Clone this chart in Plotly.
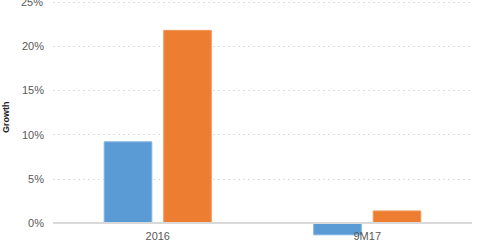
import plotly.graph_objects as go

categories = ["2016", "9M17"]
series_a = [9.2, -1.3]
series_b = [21.8, 1.4]
y_ticks = [0, 5, 10, 15, 20, 25]
y_tick_labels = ["0%", "5%", "10%", "15%", "20%", "25%"]

y_min, y_max = -3.13, 25.23

fig = go.Figure()
fig.add_trace(go.Bar(x=categories, y=series_a, name="A",
                     marker=dict(color="#5b9bd5", line=dict(color="#7fb2e0", width=1))))
fig.add_trace(go.Bar(x=categories, y=series_b, name="B",
                     marker=dict(color="#ed7d31", line=dict(color="#f29a5c", width=1))))

# the top label sits at the edge of the page, so plotly would hide it; draw it as an annotation
shown_labels = y_tick_labels[:-1] + [""]

fig.update_layout(
    width=480, height=251,
    margin=dict(l=53, r=8, t=0, b=0),
    paper_bgcolor="white", plot_bgcolor="white",
    barmode="group", bargap=0.432, bargroupgap=0.2,
    showlegend=False,
    font=dict(family="Liberation Sans, Arial, sans-serif", color="#595959", size=11),
    xaxis=dict(
        anchor="free",
        position=(0 - y_min) / (y_max - y_min),
        showline=True, linecolor="#d9d9d9", linewidth=1.5,
        showgrid=False, ticks="", tickfont=dict(size=11, color="#595959"),
        ticklabelstandoff=3,
    ),
    yaxis=dict(
        range=[y_min, y_max],
        tickvals=y_ticks, ticktext=shown_labels,
        showgrid=True, gridcolor="#dedede", griddash="2px,3px", gridwidth=1,
        zeroline=False, showline=False, ticks="",
        tickfont=dict(size=11, color="#595959"),
        ticklabelstandoff=8,
    ),
)
fig.add_annotation(
    text=y_tick_labels[-1], xref="paper", yref="y",
    x=0, y=y_ticks[-1], xanchor="right", yanchor="middle", xshift=-8,
    showarrow=False, font=dict(size=11, color="#595959", family="Liberation Sans, Arial, sans-serif"),
)
fig.add_annotation(
    text="<b>Growth</b>", textangle=-90, xref="paper", yref="paper",
    x=-0.112, y=1 - 117 / 251, xanchor="center", yanchor="middle",
    showarrow=False, font=dict(size=9, color="#262626", family="Liberation Sans, Arial, sans-serif"),
)
fig.write_html("out.html")
